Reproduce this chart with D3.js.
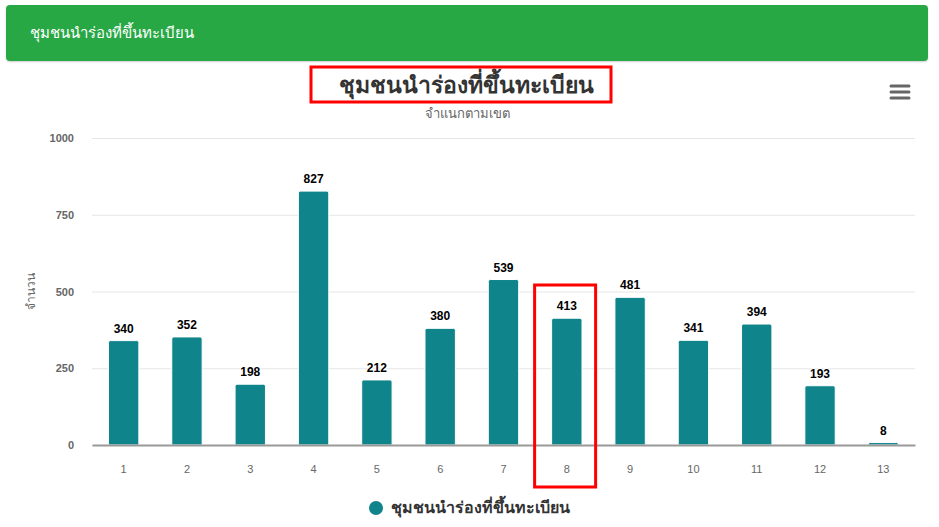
<!DOCTYPE html>
<html lang="th">
<head>
<meta charset="UTF-8">
<title>ชุมชนนำร่องที่ขึ้นทะเบียน</title>
<script src="https://cdn.jsdelivr.net/npm/d3@7"></script>
<style>
  body { margin: 0; background: #fff; font-family: "Liberation Sans", "Noto Sans", sans-serif; }
  .header {
    position: absolute; left: 6px; top: 5px; width: 922px; height: 56px;
    background: #28a745; border-radius: 4px; color: #fff;
    font-size: 15px; line-height: 56px; padding-left: 24px; box-sizing: border-box;
    box-shadow: 0 1px 2px rgba(0,0,0,0.2);
  }
  #chart { position: absolute; left: 0; top: 0; }
</style>
</head>
<body>
<div class="header">ชุมชนนำร่องที่ขึ้นทะเบียน</div>
<svg id="chart" width="939" height="527"></svg>
<script>
// data
const zones = ["1", "2", "3", "4", "5", "6", "7", "8", "9", "10", "11", "12", "13"];
const counts = [340, 352, 198, 827, 212, 380, 539, 413, 481, 341, 394, 193, 8];
const yTicks = [0, 250, 500, 750, 1000];
const seriesName = "ชุมชนนำร่องที่ขึ้นทะเบียน";

const svg = d3.select("#chart");
const plotLeft = 92, plotRight = 915, plotTop = 138, plotBottom = 445;
const barColor = "#0f858b";

const x = d3.scaleBand().domain(zones).range([plotLeft, plotRight]).paddingInner(0.52).paddingOuter(0.26);
const y = d3.scaleLinear().domain([0, 1000]).range([plotBottom, plotTop]);

// title + subtitle
svg.append("text")
    .attr("x", 466).attr("y", 93)
    .attr("text-anchor", "middle")
    .attr("font-size", 23).attr("font-weight", "bold")
    .attr("fill", "#333")
    .text("ชุมชนนำร่องที่ขึ้นทะเบียน");
svg.append("text")
    .attr("x", 467).attr("y", 118)
    .attr("text-anchor", "middle")
    .attr("font-size", 13).attr("fill", "#666")
    .text("จำแนกตามเขต");

// menu icon
[86, 92, 98].forEach(yy => {
    svg.append("line")
        .attr("x1", 891).attr("x2", 909)
        .attr("y1", yy).attr("y2", yy)
        .attr("stroke", "#666").attr("stroke-width", 3).attr("stroke-linecap", "round");
});

// grid
const grid = svg.append("g")
    .attr("transform", `translate(${plotLeft},0)`)
    .call(d3.axisLeft(y).tickValues(yTicks).tickSize(-(plotRight - plotLeft)).tickFormat(""));
grid.select(".domain").remove();
grid.selectAll("line").attr("stroke", "#e6e6e6");

// y tick labels
svg.append("g").selectAll("text")
    .data(yTicks).enter().append("text")
    .attr("x", 74).attr("y", d => y(d) + 4)
    .attr("text-anchor", "end")
    .attr("font-size", 11).attr("font-weight", "bold").attr("fill", "#666")
    .text(d => d);

// y axis title
svg.append("text")
    .attr("transform", "translate(35,291) rotate(-90)")
    .attr("text-anchor", "middle")
    .attr("font-size", 12).attr("fill", "#666")
    .text("จำนวน");

// bars
svg.append("g").selectAll("path")
    .data(zones).enter().append("path")
    .attr("d", (d, i) => {
        const x0 = x(d), w = x.bandwidth(), y0 = y(counts[i]), r = Math.min(2, plotBottom - y0);
        return `M${x0},${plotBottom}V${y0 + r}Q${x0},${y0} ${x0 + r},${y0}H${x0 + w - r}Q${x0 + w},${y0} ${x0 + w},${y0 + r}V${plotBottom}Z`;
    })
    .attr("fill", barColor)
    .attr("stroke", "#fff").attr("stroke-width", 1);

// data labels
svg.append("g").selectAll("text")
    .data(zones).enter().append("text")
    .attr("x", d => x(d) + x.bandwidth() / 2)
    .attr("y", (d, i) => y(counts[i]) - 8)
    .attr("text-anchor", "middle")
    .attr("font-size", 12).attr("font-weight", "bold").attr("fill", "#000")
    .attr("stroke", "#fff").attr("stroke-width", 2).attr("paint-order", "stroke")
    .text((d, i) => counts[i]);

// x axis
const xAxis = svg.append("g")
    .attr("transform", `translate(0,${plotBottom})`)
    .call(d3.axisBottom(x).tickSize(0).tickPadding(20));
xAxis.select(".domain").attr("stroke", "#999").attr("stroke-width", 2);
xAxis.selectAll("text").attr("font-size", 11).attr("fill", "#666")
    .attr("font-family", "\"Liberation Sans\", sans-serif");

// legend
svg.append("circle").attr("cx", 376).attr("cy", 508).attr("r", 7).attr("fill", barColor);
svg.append("text")
    .attr("x", 391).attr("y", 513)
    .attr("font-size", 16).attr("font-weight", "bold").attr("fill", "#333")
    .text(seriesName);

// highlight boxes
svg.append("rect")
    .attr("x", 311).attr("y", 67).attr("width", 300).attr("height", 35)
    .attr("fill", "none").attr("stroke", "#ff0000").attr("stroke-width", 3);
svg.append("rect")
    .attr("x", x("8") - 17).attr("y", 285).attr("width", 61).attr("height", 202)
    .attr("fill", "none").attr("stroke", "#ff0000").attr("stroke-width", 3);
</script>
</body>
</html>
